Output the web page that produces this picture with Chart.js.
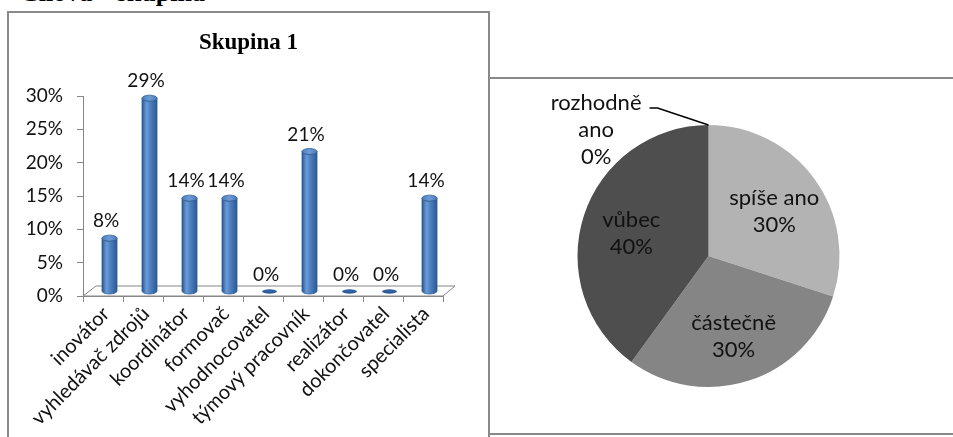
<!DOCTYPE html>
<html lang="cs">
<head>
<meta charset="utf-8">
<title>Skupina 1</title>
<script src="https://cdn.jsdelivr.net/npm/chart.js@4.4.1/dist/chart.umd.min.js"></script>
<style>
  html, body { margin: 0; padding: 0; background: #fff; }
  body { width: 953px; height: 437px; overflow: hidden; position: relative; }
  .heading {
    position: absolute; left: 20px; top: -20px; white-space: nowrap;
    font: bold 26px/26px "Liberation Serif", "Times New Roman", serif; color: #000;
    word-spacing: 18px;
  }
  .frame { position: absolute; box-sizing: border-box; border: 2px solid #898989; }
  #frameBar { left: 7px; top: 11px; width: 483px; height: 520px; }
  #framePie { left: 488px; top: 77px; width: 600px; height: 358px; }
  #barChart { position: absolute; left: 9px; top: 13px; }
  #pieChart { position: absolute; left: 490px; top: 79px; }
</style>
</head>
<body>
<div class="heading">Cílová skupina</div>
<div class="frame" id="frameBar"></div>
<div class="frame" id="framePie"></div>
<canvas id="barChart" width="479" height="424"></canvas>
<canvas id="pieChart" width="463" height="353"></canvas>

<script>
// Team roles, share of respondents (%)
const roleLabels = ['inovátor', 'vyhledávač zdrojů', 'koordinátor', 'formovač', 'vyhodnocovatel',
                    'týmový pracovník', 'realizátor', 'dokončovatel', 'specialista'];
const rolePercent = [8, 29, 14, 14, 0, 21, 0, 0, 14];
const roleAxisMax = 30;
const roleAxisStep = 5;

// Answer distribution (%)
const answerLabels = ['rozhodně ano', 'spíše ano', 'částečně', 'vůbec'];
const answerPercent = [0, 30, 30, 40];

const TEXT = '#111111';
const AXIS = '#868686';
const FONT = 'Lato, "Open Sans", sans-serif';

// ---- 3D-style cylinder columns ----
const DEPTH_X = 6.5;   // horizontal shift of the column plane behind the front axis
const DEPTH_Y = 4.5;   // vertical shift of the column plane
const FLOOR_DX = 13, FLOOR_DY = 10;

const cylinderPlugin = {
  id: 'cylinders',
  beforeDatasetsDraw(chart) {
    const { ctx, chartArea: a } = chart;
    ctx.save();
    ctx.beginPath();
    ctx.moveTo(a.left, a.bottom);
    ctx.lineTo(a.left + FLOOR_DX, a.bottom - FLOOR_DY);
    ctx.lineTo(a.right + FLOOR_DX - 1, a.bottom - FLOOR_DY);
    ctx.lineTo(a.right, a.bottom);
    ctx.closePath();
    ctx.fillStyle = '#ffffff';
    ctx.fill();
    ctx.strokeStyle = AXIS;
    ctx.lineWidth = 1;
    ctx.stroke();
    ctx.restore();
  },
  afterDatasetsDraw(chart) {
    const { ctx } = chart;
    const meta = chart.getDatasetMeta(0);
    const values = chart.data.datasets[0].data;
    ctx.save();
    meta.data.forEach((bar, i) => {
      const cx = bar.x + DEPTH_X;
      const top = bar.y - DEPTH_Y;
      const bottom = bar.base - DEPTH_Y;
      const rx = bar.width / 2;
      const ry = 3;
      if (values[i] > 0) {
        const g = ctx.createLinearGradient(cx - rx, 0, cx + rx, 0);
        g.addColorStop(0, '#2b5891');
        g.addColorStop(0.3, '#6a9ad6');
        g.addColorStop(0.55, '#4e81c1');
        g.addColorStop(1, '#2c5a94');
        ctx.beginPath();
        ctx.moveTo(cx - rx, top);
        ctx.lineTo(cx - rx, bottom);
        ctx.ellipse(cx, bottom, rx, ry, 0, Math.PI, 0, true);
        ctx.lineTo(cx + rx, top);
        ctx.ellipse(cx, top, rx, ry, 0, 0, Math.PI, false);
        ctx.closePath();
        ctx.fillStyle = g;
        ctx.fill();
        ctx.strokeStyle = '#2f5b92';
        ctx.lineWidth = 0.8;
        ctx.stroke();
        // top cap
        const cg = ctx.createLinearGradient(cx - rx, top, cx + rx, top);
        cg.addColorStop(0, '#4d7fbf');
        cg.addColorStop(0.5, '#6c9bd6');
        cg.addColorStop(1, '#4a7bb9');
        ctx.beginPath();
        ctx.ellipse(cx, top, rx, ry, 0, 0, Math.PI * 2);
        ctx.fillStyle = cg;
        ctx.fill();
        ctx.strokeStyle = '#2f5b92';
        ctx.stroke();
      } else {
        ctx.beginPath();
        ctx.ellipse(cx, bottom, rx, 2.2, 0, 0, Math.PI * 2);
        ctx.fillStyle = '#2f5f9e';
        ctx.fill();
      }
      // value label
      ctx.font = '19px ' + FONT;
      ctx.fillStyle = TEXT;
      ctx.textAlign = 'center';
      ctx.textBaseline = 'middle';
      ctx.fillText(values[i] + '%', bar.x + 3, top - 17);
    });
    ctx.restore();
  }
};

new Chart(document.getElementById('barChart'), {
  type: 'bar',
  data: {
    labels: roleLabels,
    datasets: [{
      data: rolePercent,
      backgroundColor: 'rgba(0,0,0,0)',
      borderWidth: 0,
      categoryPercentage: 1,
      barPercentage: 0.375
    }]
  },
  options: {
    responsive: false,
    animation: false,
    events: [],
    layout: { padding: 0 },
    plugins: {
      legend: { display: false },
      tooltip: { enabled: false },
      title: {
        display: true,
        text: 'Skupina 1',
        color: '#000',
        font: { family: '"Liberation Serif", "Times New Roman", serif', size: 23, weight: 'bold' },
        padding: { top: 16.2, bottom: 39.2 }
      }
    },
    scales: {
      x: {
        offset: true,
        ticks: {
          minRotation: 45, maxRotation: 45, autoSkip: false, padding: 0, labelOffset: 3,
          color: TEXT, font: { family: FONT, size: 20 }
        },
        grid: { drawOnChartArea: false, drawTicks: true, tickLength: 6, color: AXIS, offset: true },
        border: { display: true, color: AXIS },
        afterFit(scale) { scale.height = 141; }
      },
      y: {
        min: 0,
        max: roleAxisMax,
        ticks: {
          stepSize: roleAxisStep, padding: 14, color: TEXT,
          font: { family: FONT, size: 19 },
          callback: v => v + '%'
        },
        grid: { drawOnChartArea: false, drawTicks: true, tickLength: 6, color: AXIS },
        border: { display: true, color: AXIS },
        afterFit(scale) { scale.width = 74; }
      },
      // empty right-hand margin so the plot sits left of the title's centre line
      margin: {
        type: 'linear',
        position: 'right',
        display: true,
        grid: { display: false, drawTicks: false },
        border: { display: false },
        ticks: { display: false },
        afterFit(scale) { scale.width = 45; }
      }
    }
  },
  plugins: [cylinderPlugin]
});

// ---- Pie with labels inside slices, leader line for empty slices ----
const PIE_FONT_SIZE = 22;
const PIE_LINE = 27;

const pieLabelPlugin = {
  id: 'pieLabels',
  afterDatasetsDraw(chart) {
    const { ctx } = chart;
    const meta = chart.getDatasetMeta(0);
    const values = chart.data.datasets[0].data;
    const names = chart.data.labels;
    ctx.save();
    ctx.font = PIE_FONT_SIZE + 'px ' + FONT;
    ctx.fillStyle = TEXT;
    ctx.textAlign = 'center';
    ctx.textBaseline = 'middle';
    meta.data.forEach((arc, i) => {
      const mid = (arc.startAngle + arc.endAngle) / 2;
      const r = arc.outerRadius;
      if (values[i] > 0) {
        const px = arc.x + Math.cos(mid) * r * 0.62;
        const py = arc.y + Math.sin(mid) * r * 0.62 + 3;
        ctx.fillText(names[i], px, py - PIE_LINE / 2);
        ctx.fillText(values[i] + '%', px, py + PIE_LINE / 2);
      } else {
        const ax = arc.x + Math.cos(mid) * r;
        const ay = arc.y + Math.sin(mid) * r;
        const ex = ax - 51, ey = ay - 17;
        const lx = ex - 8;
        ctx.beginPath();
        ctx.moveTo(ax, ay);
        ctx.lineTo(ex, ey);
        ctx.lineTo(lx, ey);
        ctx.strokeStyle = '#000';
        ctx.lineWidth = 1.5;
        ctx.stroke();
        const lines = names[i].split(' ').concat([values[i] + '%']);
        const w = Math.max(...lines.map(t => ctx.measureText(t).width));
        const tx = lx - 8 - w / 2;
        lines.forEach((t, k) => ctx.fillText(t, tx, ey - 5 + k * PIE_LINE));
      }
    });
    ctx.restore();
  }
};

new Chart(document.getElementById('pieChart'), {
  type: 'pie',
  data: {
    labels: answerLabels,
    datasets: [{
      data: answerPercent,
      backgroundColor: ['#d9d9d9', '#b3b3b3', '#858585', '#4e4e4e'],
      borderWidth: 0,
      hoverOffset: 0,
      offset: 0
    }]
  },
  options: {
    responsive: false,
    animation: false,
    events: [],
    layout: { padding: { left: 87.5, top: 46, right: 113.5, bottom: 45 } },
    plugins: { legend: { display: false }, tooltip: { enabled: false } }
  },
  plugins: [pieLabelPlugin]
});
</script>
</body>
</html>
